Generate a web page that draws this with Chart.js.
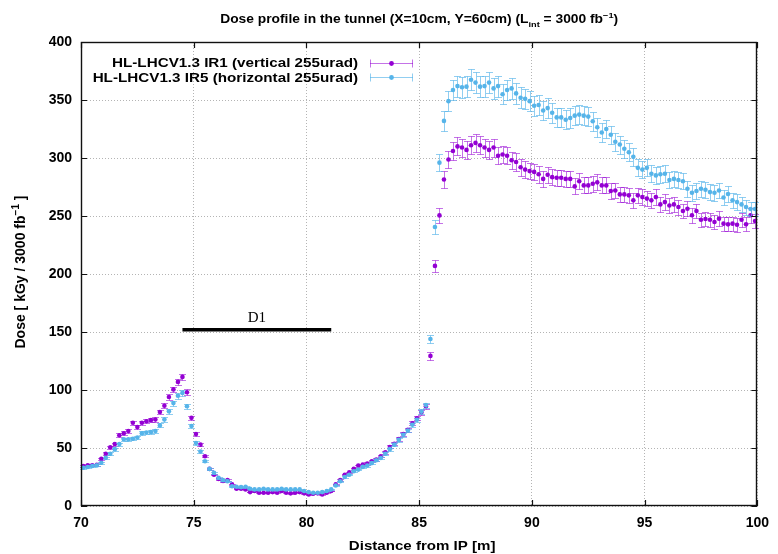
<!DOCTYPE html>
<html><head><meta charset="utf-8">
<script src="https://cdn.jsdelivr.net/npm/chart.js@4"></script>
<style>html,body{margin:0;padding:0;background:#fff}#wrap{width:778px;height:554px}</style>
</head><body><div id="wrap"><canvas id="c" width="778" height="554"></canvas></div>
<script>
// ---------------- data ----------------
const xPositions = [
70.1,70.3,70.5,70.7,70.9,71.1,71.3,71.5,71.7,71.9,72.1,72.3,72.5,72.7,72.9,
73.1,73.3,73.5,73.7,73.9,74.1,74.3,74.5,74.7,74.9,75.1,75.3,75.5,75.7,75.9,
76.1,76.3,76.5,76.7,76.9,77.1,77.3,77.5,77.7,77.9,78.1,78.3,78.5,78.7,78.9,
79.1,79.3,79.5,79.7,79.9,80.1,80.3,80.5,80.7,80.9,81.1,81.3,81.5,81.7,81.9,
82.1,82.3,82.5,82.7,82.9,83.1,83.3,83.5,83.7,83.9,84.1,84.3,84.5,84.7,84.9,
85.1,85.3,85.5,85.7,85.9,86.1,86.3,86.5,86.7,86.9,87.1,87.3,87.5,87.7,87.9,
88.1,88.3,88.5,88.7,88.9,89.1,89.3,89.5,89.7,89.9,90.1,90.3,90.5,90.7,90.9,
91.1,91.3,91.5,91.7,91.9,92.1,92.3,92.5,92.7,92.9,93.1,93.3,93.5,93.7,93.9,
94.1,94.3,94.5,94.7,94.9,95.1,95.3,95.5,95.7,95.9,96.1,96.3,96.5,96.7,96.9,
97.1,97.3,97.5,97.7,97.9,98.1,98.3,98.5,98.7,98.9,99.1,99.3,99.5,99.7,99.9
];
const doseIR1 = [
34.5,35,35,35.6,40.7,45,50.6,53.4,61,62.7,64.7,71.8,68,71.8,73,
74,74.6,81,86.4,94,100.5,107,111.3,98,76,62,52.9,42.9,32,27,
23.4,21.5,22.3,18.6,14.9,14.9,14.3,12,12.9,11.4,11.4,11.4,12,11.4,12.9,
11.4,10.9,11.4,12,10.9,10,10.6,10.9,10,11.4,12.9,18.6,22.3,27,29,
32,34.9,35.7,36.6,38.6,40,42.9,46.3,50.9,53.7,57.7,62,65.7,71.4,75.7,
80.6,86,129.4,207,250.5,281.5,298.7,306,310,309,307,311,313,311,309,
307,309,302,303,302,298,296.5,292,290,288.7,288,286,282,285.5,283.5,
283,283,282,282,275.5,280,276.4,276.4,277.8,279,276.4,276.4,271.5,272,268.6,
268.6,267.8,263.5,267.8,266.3,265,263.5,266.3,260,262,259,260,257.7,254.3,256.3,
250.6,254.3,246.8,247.4,246.8,244.8,247.7,243.4,242.8,243.4,242.5,246.8,242.8,250.6,245.7
];
const doseIR5 = [
33,33.6,34.5,35,37.3,41.5,45,49,53.4,57.6,57.6,58,59,62.7,63.3,
63.8,64.7,69.5,74.6,81.6,88.7,95,97.5,86,69,54.3,47,38.6,32,28.6,
24.3,22.3,21.4,17,16.6,16.3,16.6,14.9,14.3,14.3,14.9,14.3,14.3,14.3,14.9,
14.3,14.3,14.3,14.3,12.9,12,11.4,11.4,12,12.9,14.3,17.7,21.4,25,27,
30,31.4,33.7,34.9,37,39.4,41.4,45,49,52.9,57,61.4,65,70,74.3,
81.4,87,144,240.5,296,332,349,358.6,362,361,361.5,367.5,365,361.5,362,
365,360,362,355,358.6,360,355.7,352,351,349,345,345.7,341,343,339,
335,335,333,334.5,336.5,337.4,336.5,335.7,331.7,326.5,322,325,320,314,311.6,
308,305,301,291.5,290,291.5,286.4,285,286,286.4,281,282,281,280,273.5,
270,271.5,273.5,272.6,270.6,270,272,266,269,263.5,262,260,257.7,256,256
];
const relErrIR1 = 0.025;
const relErrIR5 = 0.025;
const xTickValues = [70, 75, 80, 85, 90, 95, 100];
const yTickValues = [0, 50, 100, 150, 200, 250, 300, 350, 400];
const seriesLabels = ['HL-LHCV1.3 IR1 (vertical 255urad)', 'HL-LHCV1.3 IR5 (horizontal 255urad)'];
const d1Span = [74.5, 81.1];
const d1Level = 152;
const d1Text = 'D1';
const d1TextPos = [77.8, 162];

// ---------------- style ----------------
const COL1 = 'rgb(148,0,211)', ERR1 = 'rgba(148,0,211,0.55)';
const COL2 = 'rgb(86,180,233)', ERR2 = 'rgba(86,180,233,0.65)';
const FONT = '"Liberation Sans", Arial, sans-serif';

function pts(ys) { return xPositions.map((x, i) => ({ x: x, y: ys[i] })); }

function drawRich(ctx, segs, x, y, align, size, sx) {
  sx = sx || 1;
  const fonts = segs.map(s => 'bold ' + (s.sub || s.sup ? Math.round(size * 0.7) : size) + 'px ' + FONT);
  let w = 0;
  const ws = segs.map((s, i) => { ctx.font = fonts[i]; const m = ctx.measureText(s.t).width * sx; w += m; return m; });
  let cx = align === 'center' ? x - w / 2 : (align === 'right' ? x - w : x);
  ctx.textAlign = 'left'; ctx.textBaseline = 'alphabetic';
  segs.forEach((s, i) => {
    ctx.font = fonts[i];
    const dy = s.sub ? size * 0.3 : (s.sup ? -size * 0.42 : 0);
    ctx.save();
    ctx.translate(cx, y + dy);
    ctx.scale(sx, 1);
    ctx.fillText(s.t, 0, 0);
    ctx.restore();
    cx += ws[i];
  });
}

const overlay = {
  id: 'overlay',
  beforeDatasetDraw(chart, args) {
    const ds = chart.data.datasets[args.index];
    if (!ds.relErr) return;
    const xs = chart.scales.x, ys = chart.scales.y, ctx = chart.ctx;
    ctx.save();
    ctx.strokeStyle = ds.errColor; ctx.lineWidth = 1;
    ctx.beginPath();
    ds.data.forEach(p => {
      const px = Math.round(xs.getPixelForValue(p.x)) + 0.5;
      const e = p.y * ds.relErr;
      const y1 = Math.round(ys.getPixelForValue(p.y - e)) + 0.5;
      const y2 = Math.round(ys.getPixelForValue(p.y + e)) + 0.5;
      ctx.moveTo(px, y1); ctx.lineTo(px, y2);
      ctx.moveTo(px - 3.5, y1); ctx.lineTo(px + 3.5, y1);
      ctx.moveTo(px - 3.5, y2); ctx.lineTo(px + 3.5, y2);
    });
    ctx.stroke();
    ctx.restore();
  },
  afterDraw(chart) {
    const ctx = chart.ctx, a = chart.chartArea, xs = chart.scales.x, ys = chart.scales.y;
    ctx.save();
    // frame
    ctx.strokeStyle = '#111'; ctx.lineWidth = 1.4;
    ctx.strokeRect(Math.round(a.left) + 0.5, Math.round(a.top) + 0.5, Math.round(a.right - a.left) - 1, Math.round(a.bottom - a.top) - 1);
    // inner ticks
    ctx.lineWidth = 1.2; ctx.beginPath();
    const T = 6;
    xTickValues.forEach(v => {
      const px = Math.round(xs.getPixelForValue(v)) + 0.5;
      ctx.moveTo(px, a.bottom); ctx.lineTo(px, a.bottom - T);
      ctx.moveTo(px, a.top); ctx.lineTo(px, a.top + T);
    });
    yTickValues.forEach(v => {
      const py = Math.round(ys.getPixelForValue(v)) + 0.5;
      ctx.moveTo(a.left, py); ctx.lineTo(a.left + T, py);
      ctx.moveTo(a.right, py); ctx.lineTo(a.right - T, py);
    });
    ctx.stroke();
    ctx.fillStyle = '#000';
    // title
    const cx = (a.left + a.right) / 2;
    drawRich(ctx, [{ t: 'Dose profile in the tunnel (X=10cm, Y=60cm) (L' }, { t: 'int', sub: true },
      { t: ' = 3000 fb' }, { t: '\u22121', sup: true }, { t: ')' }], cx, 23, 'center', 12, 1.15);
    // x title
    drawRich(ctx, [{ t: 'Distance from IP [m]' }], cx + 3, 550, 'center', 13, 1.16);
    // y title
    ctx.save();
    ctx.translate(25, (a.top + a.bottom) / 2 - 2);
    ctx.rotate(-Math.PI / 2);
    drawRich(ctx, [{ t: 'Dose [ kGy / 3000 fb' }, { t: '\u22121', sup: true }, { t: ' ]' }], 0, 0, 'center', 14, 1);
    ctx.restore();
    // D1 label
    ctx.font = '15px "Liberation Serif", "Times New Roman", serif';
    ctx.textAlign = 'center'; ctx.textBaseline = 'middle';
    ctx.fillText(d1Text, xs.getPixelForValue(d1TextPos[0]), ys.getPixelForValue(d1TextPos[1]));
    // legend
    const rows = [[seriesLabels[0], COL1, ERR1, 62.5], [seriesLabels[1], COL2, ERR2, 77]];
    rows.forEach(r => {
      ctx.fillStyle = '#000';
      drawRich(ctx, [{ t: r[0] }], 358, r[3] + 4.5, 'right', 13, 1.17);
      ctx.strokeStyle = r[2]; ctx.lineWidth = 1;
      ctx.beginPath();
      const y = Math.round(r[3]) + 0.5;
      ctx.moveTo(370, y); ctx.lineTo(413, y);
      ctx.moveTo(370.5, y - 4); ctx.lineTo(370.5, y + 4);
      ctx.moveTo(412.5, y - 4); ctx.lineTo(412.5, y + 4);
      ctx.stroke();
      ctx.fillStyle = r[1];
      ctx.beginPath(); ctx.arc(391.5, y, 2.4, 0, Math.PI * 2); ctx.fill();
    });
    ctx.restore();
  }
};

const tickFont = { family: FONT, size: 14, weight: 'bold' };
new Chart(document.getElementById('c'), {
  type: 'scatter',
  data: {
    datasets: [
      { label: seriesLabels[1], data: pts(doseIR5), order: 0, relErr: relErrIR5, errColor: ERR2,
        pointRadius: 2.3, pointBorderWidth: 0, pointBackgroundColor: COL2, backgroundColor: COL2, showLine: false },
      { label: seriesLabels[0], data: pts(doseIR1), order: 1, relErr: relErrIR1, errColor: ERR1,
        pointRadius: 2.3, pointBorderWidth: 0, pointBackgroundColor: COL1, backgroundColor: COL1, showLine: false },
      { label: d1Text, data: [{ x: d1Span[0], y: d1Level }, { x: d1Span[1], y: d1Level }], order: 2,
        showLine: true, borderColor: '#000', borderWidth: 3.5, pointRadius: 0, borderCapStyle: 'butt' }
    ]
  },
  options: {
    responsive: false, animation: false, devicePixelRatio: 1, events: [],
    layout: { padding: { top: 42, right: 14, left: 0, bottom: 0 } },
    plugins: { legend: { display: false }, title: { display: false }, tooltip: { enabled: false } },
    scales: {
      x: {
        type: 'linear', min: 70, max: 100,
        afterBuildTicks: s => { s.ticks = xTickValues.map(v => ({ value: v })); },
        afterFit: s => { s.height = 48; },
        ticks: { font: tickFont, color: '#000', padding: 9, maxRotation: 0 },
        grid: { color: '#b4b4b4', lineWidth: 1, drawTicks: false },
        border: { display: false, dash: [1, 2] }
      },
      y: {
        type: 'linear', min: 0, max: 400,
        afterBuildTicks: s => { s.ticks = yTickValues.map(v => ({ value: v })); },
        afterFit: s => { s.width = 81; },
        ticks: { font: tickFont, color: '#000', padding: 9 },
        grid: { color: '#b4b4b4', lineWidth: 1, drawTicks: false },
        border: { display: false, dash: [1, 2] }
      }
    }
  },
  plugins: [overlay]
});
</script>
</body></html>
